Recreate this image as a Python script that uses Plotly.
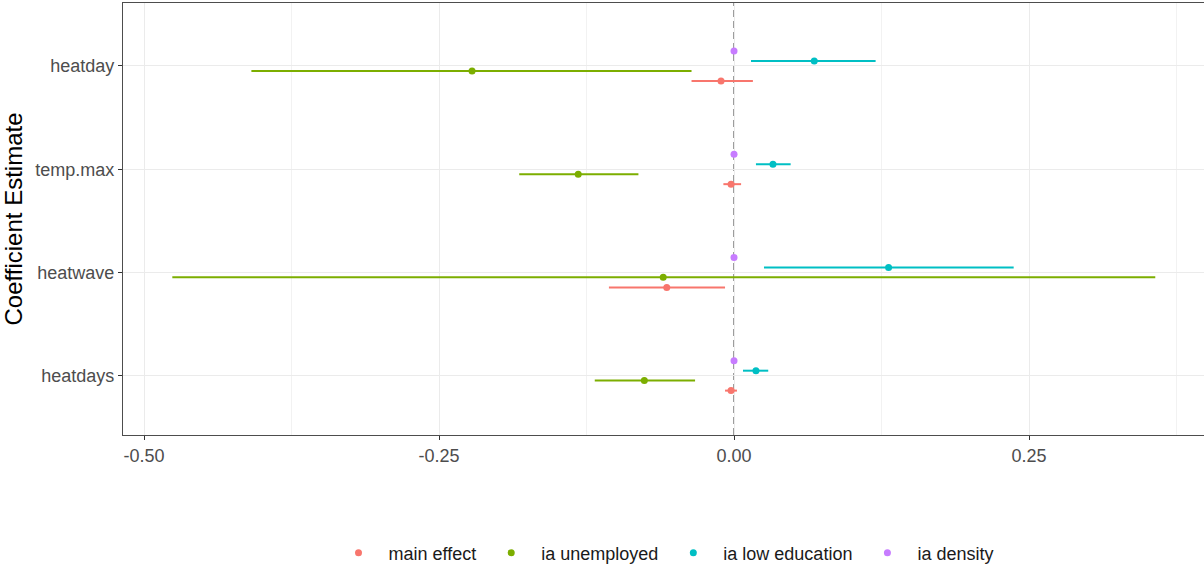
import plotly.graph_objects as go

categories = ["heatdays", "heatwave", "temp.max", "heatday"]  # bottom to top

series_names = ["main effect", "ia unemployed", "ia low education", "ia density"]
colors = ["#F8766D", "#7CAE00", "#00BFC4", "#C77CFF"]
offsets = [-0.145, -0.048, 0.048, 0.145]

# estimates per category (order as categories list)
main_est = [-0.0025, -0.057, -0.0025, -0.011]
main_lo = [-0.0076, -0.106, -0.009, -0.036]
main_hi = [0.0025, -0.0076, 0.006, 0.016]

unemp_est = [-0.076, -0.060, -0.132, -0.222]
unemp_lo = [-0.118, -0.476, -0.182, -0.409]
unemp_hi = [-0.033, 0.357, -0.081, -0.036]

lowed_est = [0.0186, 0.131, 0.033, 0.068]
lowed_lo = [0.0076, 0.0254, 0.0186, 0.0144]
lowed_hi = [0.029, 0.237, 0.048, 0.120]

dens_est = [0.0, 0.0, 0.0, 0.0]
dens_lo = [-0.0005, -0.0005, -0.0005, -0.0005]
dens_hi = [0.0005, 0.0005, 0.0005, 0.0005]

x_ticks = [-0.50, -0.25, 0.00, 0.25]
x_ticklabels = ["-0.50", "-0.25", "0.00", "0.25"]

data = [
    (main_est, main_lo, main_hi),
    (unemp_est, unemp_lo, unemp_hi),
    (lowed_est, lowed_lo, lowed_hi),
    (dens_est, dens_lo, dens_hi),
]

fig = go.Figure()

fig.add_shape(type="line", xref="x", yref="paper", x0=0, x1=0, y0=0, y1=1,
              line=dict(color="#858585", width=1.6, dash="7px,4px"), layer="below")

for name, col, off, (est, lo, hi) in zip(series_names, colors, offsets, data):
    ys = [i + off for i in range(len(categories))]
    fig.add_trace(go.Scatter(
        x=est, y=ys, mode="markers", name=name,
        marker=dict(color=col, size=7),
        error_x=dict(type="data", symmetric=False,
                     array=[h - e for h, e in zip(hi, est)],
                     arrayminus=[e - l for e, l in zip(est, lo)],
                     width=0, thickness=2, color=col),
    ))

fig.update_layout(
    width=1204, height=566,
    margin=dict(l=123, r=0, t=3, b=131, autoexpand=False),
    paper_bgcolor="white", plot_bgcolor="white",
    font=dict(family="Liberation Sans, Arial, sans-serif", size=18, color="#4D4D4D"),
    showlegend=True,
    legend=dict(orientation="h", x=0.5, xanchor="center",
                yref="container", y=13 / 566, yanchor="middle",
                font=dict(size=18, color="#1A1A1A"), traceorder="normal",
                itemwidth=50),
    xaxis=dict(
        range=[-0.5178, 0.3983], tickvals=x_ticks, ticktext=x_ticklabels,
        showgrid=True, gridcolor="#EBEBEB", gridwidth=1.2,
        minor=dict(dtick=0.125, tick0=0.125, showgrid=True, gridcolor="#F2F2F2", gridwidth=0.8),
        zeroline=False, showline=True, linecolor="#4D4D4D", linewidth=1.2, mirror=True,
        ticks="outside", ticklen=4, tickcolor="#333333", tickwidth=1.2,
        tickfont=dict(size=18, color="#4D4D4D"),
    ),
    yaxis=dict(
        range=[-0.575, 3.61], tickvals=list(range(len(categories))), ticktext=categories,
        showgrid=True, gridcolor="#EBEBEB", gridwidth=1.2,
        zeroline=False, showline=True, linecolor="#4D4D4D", linewidth=1.2,
        ticks="outside", ticklen=4, tickcolor="#333333", tickwidth=1.2,
        tickfont=dict(size=18, color="#4D4D4D"),
        title=dict(text="Coefficient Estimate", font=dict(size=24, color="#000000"), standoff=6),
    ),
)

fig.write_html("out.html")
